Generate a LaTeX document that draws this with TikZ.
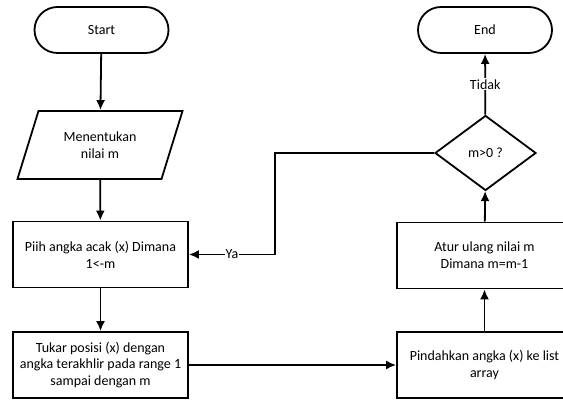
\documentclass[tikz,border=0pt]{standalone}
\usepackage{fontspec}
\setmainfont{Carlito}
\usetikzlibrary{shapes.geometric,arrows.meta}
\begin{document}
\begin{tikzpicture}[x=1pt,y=1pt,
  every node/.style={font=\fontsize{14}{16.8}\selectfont, align=center},
  term/.style={draw, line width=1.8pt, rounded corners=23pt, minimum width=134pt, minimum height=46pt, inner sep=0pt},
  proc/.style={draw, line width=1.8pt, minimum width=175pt, minimum height=66pt, inner sep=0pt},
  io/.style={draw, line width=1.8pt, trapezium, trapezium left angle=65, trapezium right angle=115, trapezium stretches=true, minimum width=166pt, minimum height=68pt, inner sep=0pt},
  dec/.style={draw, line width=1.8pt, diamond, minimum width=101pt, minimum height=75pt, inner sep=0pt, aspect=1.35},
  conn/.style={line width=1.8pt, -{Latex[length=10pt,width=9pt]}},
  lbl/.style={fill=white, inner sep=1pt}
]
\useasboundingbox[fill=white] (0,0) rectangle (563,401);
\node[term] (start) at (101.5,371) {Start};
\node[io] (input) at (100,256) {Menentukan\\nilai m};
\node[proc] (pilih) at (100.5,146.5) {Piih angka acak (x) Dimana\\1<-m};
\node[proc] (tukar) at (100.5,36) {Tukar posisi (x) dengan\\angka terakhlir pada range 1\\sampai dengan m};
\node[proc] (pindah) at (484.5,36) {Pindahkan angka (x) ke list\\array};
\node[proc] (atur) at (484.5,145.5) {Atur ulang nilai m\\Dimana m=m-1};
\node[dec] (cek) at (485.5,248) {m>0 ?};
\node[term] (end) at (485,371) {End};
\coordinate (c1) at (275,248);
\coordinate (c2) at (275,146.5);
\draw[conn] (start) -- (input);
\draw[conn] (input) -- (pilih);
\draw[conn] (pilih) -- (tukar);
\draw[conn] (tukar) -- (pindah);
\draw[conn] (pindah) -- (atur);
\draw[conn] (atur) -- (cek);
\draw[conn] (cek) -- node[lbl] {Tidak} (end);
\draw[conn] (cek.west) -- (c1) -- (c2) -- node[lbl, pos=0.5] {Ya} (pilih.east);
\end{tikzpicture}
\end{document}
